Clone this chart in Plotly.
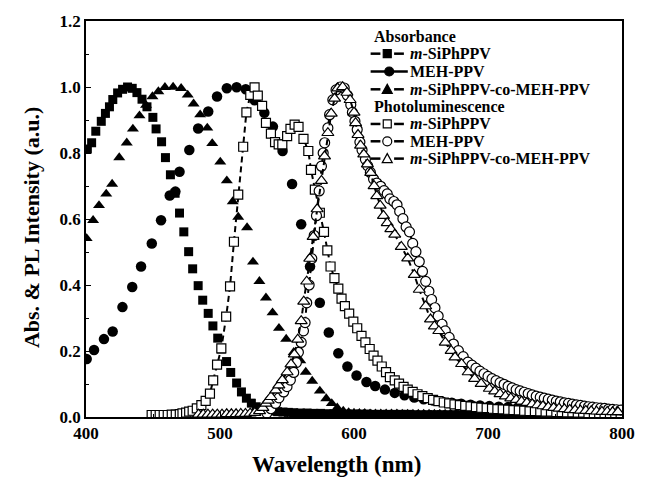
import plotly.graph_objects as go

# ---------------- Absorbance ----------------
abs_si_x = [401, 404.2, 407.3, 411.4, 414.5, 417.5, 420, 423.6, 427.3, 431, 434.5, 438, 441.8, 445.5,
            449.9, 452.3, 456.4, 459.3, 463, 466.5, 469.8, 473, 476.6, 479.6, 483.7, 487.1, 491.2,
            494.7, 498.3, 501, 504.9, 508, 512.4, 516, 519.7, 523.4, 527, 531, 535, 539, 543, 547,
            551, 555, 560, 565, 570, 575, 580, 585, 590, 595, 600, 605, 610, 615, 620, 625, 630,
            635, 640, 645, 650, 655, 660, 665, 670, 675, 680, 685, 690, 695, 700, 705, 710, 715,
            720, 725, 730, 735, 740, 745, 750, 755, 760, 765, 770, 775, 780, 785, 790, 795, 800]
abs_si_y = [0.812, 0.831, 0.866, 0.896, 0.920, 0.940, 0.962, 0.982, 0.993, 1.000, 0.996, 0.983, 0.963, 0.940,
            0.908, 0.873, 0.834, 0.786, 0.734, 0.678, 0.618, 0.561, 0.501, 0.449, 0.398, 0.354, 0.314,
            0.276, 0.239, 0.206, 0.168, 0.135, 0.103, 0.076, 0.057, 0.042, 0.031, 0.025, 0.021, 0.018, 0.016, 0.015,
            0.014, 0.013, 0.012, 0.012, 0.011, 0.011, 0.010, 0.010, 0.010, 0.009, 0.009, 0.009, 0.009, 0.008, 0.008, 0.008, 0.008,
            0.008, 0.008, 0.007, 0.007, 0.007, 0.007, 0.007, 0.007, 0.007, 0.007, 0.006, 0.006, 0.006, 0.006, 0.006, 0.006, 0.006,
            0.006, 0.006, 0.006, 0.006, 0.006, 0.005, 0.005, 0.005, 0.005, 0.005, 0.005, 0.005, 0.005, 0.005, 0.005, 0.005, 0.005]

abs_meh_x = [400.5, 406, 413.4, 419.9, 427.2, 434.5, 441.1, 449.1, 456, 462.5, 466.7, 469.8, 477.1,
             483.7, 491.2, 497.8, 505.1, 512.4, 519.2, 525.8, 533.1, 539.5, 546.7, 553.8, 560.6,
             567.2, 574.5, 581.2, 588.3, 595.1, 601.9, 609.3, 615.8, 623.1, 630.4, 637.7, 645, 652,
             659, 666, 673, 680, 687, 694, 701, 708, 715, 722, 729, 736, 743, 750, 757, 764, 771,
             778, 785, 792, 799]
abs_meh_y = [0.176, 0.203, 0.236, 0.259, 0.333, 0.394, 0.456, 0.526, 0.596, 0.671, 0.683, 0.743, 0.809,
             0.874, 0.926, 0.971, 0.996, 0.999, 0.993, 0.960, 0.922, 0.880, 0.806, 0.706, 0.584,
             0.456, 0.346, 0.256, 0.193, 0.153, 0.126, 0.106, 0.094, 0.083, 0.073, 0.066, 0.059, 0.054,
             0.050, 0.046, 0.043, 0.040, 0.037, 0.035, 0.033, 0.031, 0.030, 0.028, 0.027, 0.026, 0.025,
             0.024, 0.023, 0.022, 0.022, 0.021, 0.021, 0.020, 0.020]

abs_co_x = [400.5, 405.3, 409.7, 415.1, 419.5, 424.8, 430.4, 435, 439.9, 444.8, 449.6, 454, 458.9, 465,
            471, 475.9, 480.3, 485.2, 490.5, 494.2, 500.2, 505.1, 509.5, 513.6, 520.2, 524.6, 529.4,
            534.3, 539.2, 544, 549.4, 555, 559.9, 564, 568.8, 574.5, 579.3, 583.4, 587.5, 592, 596,
            600, 604, 608, 612, 616, 620, 624, 628, 632, 636, 640, 644, 648, 652, 656, 660, 664, 668,
            672, 676, 680, 684, 688, 692, 696, 700, 704, 708, 712, 716, 720, 724, 728, 732, 736, 740,
            744, 748, 752, 756, 760, 764, 768, 772, 776, 780, 784, 788, 792, 796, 800]
abs_co_y = [0.541, 0.596, 0.641, 0.676, 0.706, 0.786, 0.831, 0.873, 0.913, 0.945, 0.971, 0.986, 0.999, 1.000,
            0.996, 0.976, 0.949, 0.916, 0.876, 0.829, 0.773, 0.716, 0.653, 0.606, 0.574, 0.470, 0.411,
            0.361, 0.316, 0.269, 0.236, 0.196, 0.171, 0.136, 0.109, 0.079, 0.056, 0.041, 0.028, 0.018, 0.014,
            0.012, 0.011, 0.011, 0.010, 0.010, 0.010, 0.010, 0.010, 0.010, 0.009, 0.009, 0.009, 0.009, 0.009, 0.009, 0.009, 0.009, 0.009,
            0.009, 0.009, 0.009, 0.009, 0.009, 0.009, 0.009, 0.009, 0.009, 0.008, 0.008, 0.008, 0.008, 0.008, 0.008, 0.008, 0.008, 0.008,
            0.008, 0.008, 0.008, 0.008, 0.008, 0.008, 0.008, 0.008, 0.008, 0.008, 0.008, 0.008, 0.008, 0.008, 0.008]

# ---------------- Photoluminescence ----------------
pl_si_x = [449, 452, 455, 458, 461, 464, 467, 470, 472, 474.7, 477, 479.6, 482.7, 486.1, 489.3, 492.5,
           494.9, 497.8, 501, 504.6, 507.5, 510.4, 513.6, 517.3, 519.7, 522.6, 525.8, 528.2, 531.4,
           534.3, 538, 541.1, 543.8, 546.5, 550.1, 552.6, 555.7, 558.6, 562.3, 565.9, 567.9, 570.8,
           574.5, 577.6, 580.1, 582.5, 585.4, 588.3, 590.7, 593.2, 596.4, 599.5, 602.4, 605.6, 608.5,
           611.7, 614.6, 617.5, 620.7, 623.9, 626.8, 630.4, 633.6, 637, 640.1, 643.8, 647.4, 651, 655,
           659, 663, 667, 671, 675, 679, 683, 687, 691, 695, 699, 703, 707, 711, 715, 719, 723, 727,
           731, 735, 739, 743, 747, 751, 755, 759, 763, 767, 771, 775, 779, 783, 787, 791, 795, 799]
pl_si_y = [0.006, 0.006, 0.006, 0.006, 0.006, 0.007, 0.007, 0.009, 0.011, 0.013, 0.016, 0.019, 0.026, 0.036, 0.049, 0.071,
           0.111, 0.159, 0.208, 0.304, 0.396, 0.531, 0.674, 0.819, 0.923, 0.976, 0.999, 0.974, 0.943,
           0.891, 0.859, 0.833, 0.826, 0.826, 0.851, 0.873, 0.886, 0.879, 0.843, 0.806, 0.749, 0.689,
           0.619, 0.561, 0.505, 0.456, 0.421, 0.389, 0.359, 0.336, 0.313, 0.289, 0.269, 0.246, 0.226,
           0.206, 0.186, 0.171, 0.153, 0.136, 0.121, 0.111, 0.101, 0.091, 0.083, 0.076, 0.069, 0.063, 0.057,
           0.052, 0.048, 0.044, 0.041, 0.038, 0.036, 0.034, 0.032, 0.030, 0.028, 0.027, 0.025, 0.024, 0.023, 0.022, 0.021, 0.020, 0.019,
           0.018, 0.018, 0.017, 0.016, 0.016, 0.015, 0.015, 0.014, 0.014, 0.013, 0.013, 0.012, 0.012, 0.012, 0.011, 0.011, 0.011, 0.010]

pl_meh_x = [535, 538, 541.5, 544, 547.5, 550, 552.5, 555, 557, 558.5, 560.6, 562.3, 563.5, 564.7, 566.5,
            568.5, 570.3, 572, 574, 575.7, 577, 578.1, 580.5, 581.8, 584.2, 586.6, 589.8, 592.7, 595,
            597.6, 598.8, 600.7, 602.4, 604.4, 606, 608.5, 610.2, 612.2, 614.6, 617, 619.9, 622.4,
            624.8, 626.8, 629.7, 632.1, 634.1, 636.5, 638.9, 641.4, 643.8, 646.2, 648.7, 651.1, 653.5,
            655.9, 657.9, 660.4, 662.8, 665.7, 668.1, 671, 674.2, 677.9, 681.5, 685, 688, 691, 694,
            697, 700, 703, 706, 709, 712, 715, 718, 721, 724, 727, 730, 733, 736, 739, 742, 745, 748,
            751, 754, 757, 760, 763, 766, 769, 772, 775, 778, 781, 784, 787, 790, 793, 796, 799]
pl_meh_y = [0.012, 0.025, 0.041, 0.058, 0.076, 0.092, 0.112, 0.135, 0.165, 0.196, 0.226, 0.261, 0.286, 0.346, 0.400,
            0.480, 0.550, 0.610, 0.685, 0.760, 0.800, 0.831, 0.876, 0.916, 0.961, 0.991, 1.000, 0.997, 0.975,
            0.946, 0.923, 0.896, 0.871, 0.833, 0.809, 0.781, 0.761, 0.741, 0.721, 0.709, 0.699, 0.686,
            0.676, 0.661, 0.653, 0.643, 0.623, 0.601, 0.576, 0.561, 0.526, 0.501, 0.471, 0.441, 0.411,
            0.381, 0.356, 0.331, 0.306, 0.281, 0.261, 0.241, 0.221, 0.201, 0.183, 0.166, 0.157, 0.148, 0.139,
            0.131, 0.123, 0.116, 0.110, 0.104, 0.099, 0.093, 0.088, 0.083, 0.079, 0.075, 0.071, 0.067, 0.063, 0.060, 0.057, 0.054, 0.051,
            0.048, 0.046, 0.043, 0.041, 0.039, 0.037, 0.035, 0.033, 0.031, 0.030, 0.028, 0.027, 0.026, 0.024, 0.023, 0.022, 0.021]

pl_co_x = [484, 487.5, 491, 494.5, 498, 501.5, 505, 508.5, 512, 515.5, 519, 522.5, 526, 529.5, 532,
           534.3, 536, 538, 541.6, 543.9, 546.5, 550.1, 553, 555.5, 558, 560.6, 562.5, 564.7, 567,
           569.5, 572.5, 575.7, 578, 580.5, 583, 585.5, 587.8, 591.5, 594.7, 597.1, 600, 601.2, 603,
           604.9, 607.3, 610, 612.5, 615, 617, 619.5, 622, 624.8, 627.5, 630.4, 635.3, 640.1, 645,
           648.7, 653.5, 657.1, 660, 663.3, 668.1, 672.5, 675.4, 680.3, 685.2, 690, 694.9, 701, 705,
           709, 713, 717, 721, 725, 729, 733, 737, 741, 745, 749, 753, 757, 761, 765, 769, 773, 777,
           781, 785, 789, 793, 797]
pl_co_y = [0.008, 0.008, 0.008, 0.008, 0.008, 0.008, 0.009, 0.009, 0.009, 0.010, 0.010, 0.011, 0.013, 0.018, 0.028,
           0.041, 0.050, 0.061, 0.081, 0.096, 0.112, 0.136, 0.160, 0.190, 0.235, 0.291, 0.350, 0.411, 0.480,
           0.546, 0.630, 0.716, 0.790, 0.861, 0.920, 0.965, 0.996, 1.000, 0.983, 0.961, 0.923, 0.891, 0.855,
           0.823, 0.796, 0.766, 0.740, 0.700, 0.670, 0.641, 0.610, 0.588, 0.570, 0.553, 0.516, 0.481, 0.431,
           0.386, 0.336, 0.296, 0.275, 0.261, 0.226, 0.201, 0.181, 0.161, 0.136, 0.116, 0.101, 0.086, 0.078,
           0.070, 0.063, 0.057, 0.052, 0.047, 0.043, 0.039, 0.036, 0.033, 0.030, 0.028, 0.026, 0.024, 0.022, 0.021, 0.020, 0.019, 0.018,
           0.017, 0.016, 0.016, 0.015, 0.015]

group_titles = ["Absorbance", "Photoluminescence"]
series_names = ["<i>m</i>-SiPhPPV", "MEH-PPV", "<i>m</i>-SiPhPPV-co-MEH-PPV"]

FONT = "Liberation Serif"
W, H = 647, 477
ML, MR, MT, MB = 86, 13, 17, 60
PW, PH = W - ML - MR, H - MT - MB


def px(xp):
    return (xp - ML) / PW


def py(yp):
    return (H - MB - yp) / PH


fig = go.Figure()

filled = dict(color="black", line=dict(color="black", width=0))
opened = dict(color="white", line=dict(color="black", width=1.2))

series = [
    (0, 0, abs_si_x, abs_si_y, "square", 9, filled, "dash"),
    (0, 1, abs_meh_x, abs_meh_y, "circle", 10.5, filled, "solid"),
    (0, 2, abs_co_x, abs_co_y, "triangle-up", 10.5, filled, "dash"),
    (1, 0, pl_si_x, pl_si_y, "square", 9, opened, "dash"),
    (1, 1, pl_meh_x, pl_meh_y, "circle", 10, opened, "dash"),
    (1, 2, pl_co_x, pl_co_y, "triangle-up", 10.5, opened, "dash"),
]

for g, k, xs, ys, sym, size, mk, dash in series:
    is_pl = g == 1
    fig.add_trace(go.Scatter(
        x=xs, y=ys,
        name=group_titles[g] + " " + series_names[k],
        mode="lines+markers" if is_pl else "markers",
        line=dict(color="black", width=2, dash="6px,4px"),
        marker=dict(symbol=sym, size=size, **mk),
        showlegend=False, hoverinfo="skip",
    ))

# ---------- hand-built legend (layout decoration) ----------
LEG_TEXT_FONT = dict(family=FONT, size=16, color="black", weight="bold")
title_rows = {0: 32.5, 1: 103.5}
item_rows = {(0, 0): 50, (0, 1): 68, (0, 2): 86, (1, 0): 121, (1, 1): 138.5, (1, 2): 156}
annotations = []
shapes = []
for g, yrow in title_rows.items():
    annotations.append(dict(text=group_titles[g], xref="paper", yref="paper", x=px(378), y=py(yrow),
                            xanchor="left", yanchor="middle", showarrow=False, font=LEG_TEXT_FONT))
for g, k, xs, ys, sym, size, mk, dash in series:
    yrow = item_rows[(g, k)]
    annotations.append(dict(text=series_names[k], xref="paper", yref="paper", x=px(415), y=py(yrow),
                            xanchor="left", yanchor="middle", showarrow=False, font=LEG_TEXT_FONT))
    fill = mk["color"]
    xl0, xl1 = (377, 415) if dash == "solid" else (377, 411)
    xc = (xl0 + xl1) / 2
    if dash == "solid":
        shapes.append(dict(type="line", xref="paper", yref="paper", x0=px(xl0), x1=px(xl1),
                           y0=py(yrow), y1=py(yrow), line=dict(color="black", width=2.5)))
    else:
        shapes.append(dict(type="line", xref="paper", yref="paper", x0=px(xl0), x1=px(xc - 7),
                           y0=py(yrow), y1=py(yrow), line=dict(color="black", width=2.5)))
        shapes.append(dict(type="line", xref="paper", yref="paper", x0=px(xc + 7), x1=px(xl1),
                           y0=py(yrow), y1=py(yrow), line=dict(color="black", width=2.5)))
    common = dict(xref="paper", yref="paper", xsizemode="pixel", ysizemode="pixel",
                  xanchor=px(xc), yanchor=py(yrow), fillcolor=fill,
                  line=dict(color="black", width=1.2))
    if sym == "square":
        shapes.append(dict(type="rect", x0=-4, x1=4, y0=-4, y1=4, **common))
    elif sym == "circle":
        shapes.append(dict(type="circle", x0=-4.5, x1=4.5, y0=-4.5, y1=4.5, **common))
    else:
        shapes.append(dict(type="path", path="M -5,-4 L 5,-4 L 0,5 Z", **common))

# axis titles placed as in the reference
annotations.append(dict(text="Wavelength (nm)", xref="paper", yref="paper", x=px(342), y=py(465),
                        xanchor="center", yanchor="middle", showarrow=False,
                        font=dict(family=FONT, size=23, color="black", weight="bold")))
annotations.append(dict(text="Abs. & PL Intensity (a.u.)", xref="paper", yref="paper", x=px(31), y=py(226),
                        xanchor="center", yanchor="middle", showarrow=False, textangle=-90,
                        font=dict(family=FONT, size=22, color="black", weight="bold")))

fig.update_layout(
    width=W, height=H,
    margin=dict(l=ML, r=MR, t=MT, b=MB),
    paper_bgcolor="white", plot_bgcolor="white",
    font=dict(family=FONT, color="black", weight="bold"),
    showlegend=False,
    annotations=annotations,
    shapes=shapes,
    xaxis=dict(
        range=[400, 800], tickvals=[400, 500, 600, 700, 800],
        showline=True, linecolor="black", linewidth=1.5, mirror=True,
        ticks="inside", ticklen=5, tickcolor="black", tickwidth=1.2,
        minor=dict(dtick=50, ticks="inside", ticklen=3, tickcolor="black"),
        showgrid=False, zeroline=False,
        tickfont=dict(family=FONT, size=17, color="black", weight="bold"),
    ),
    yaxis=dict(
        range=[0, 1.2], tickvals=[0, 0.2, 0.4, 0.6, 0.8, 1.0, 1.2], tickformat=".1f",
        showline=True, linecolor="black", linewidth=1.5, mirror=True,
        ticks="inside", ticklen=5, tickcolor="black", tickwidth=1.2,
        minor=dict(dtick=0.1, ticks="inside", ticklen=3, tickcolor="black"),
        showgrid=False, zeroline=False,
        tickfont=dict(family=FONT, size=17, color="black", weight="bold"),
    ),
)

fig.write_html("out.html")
